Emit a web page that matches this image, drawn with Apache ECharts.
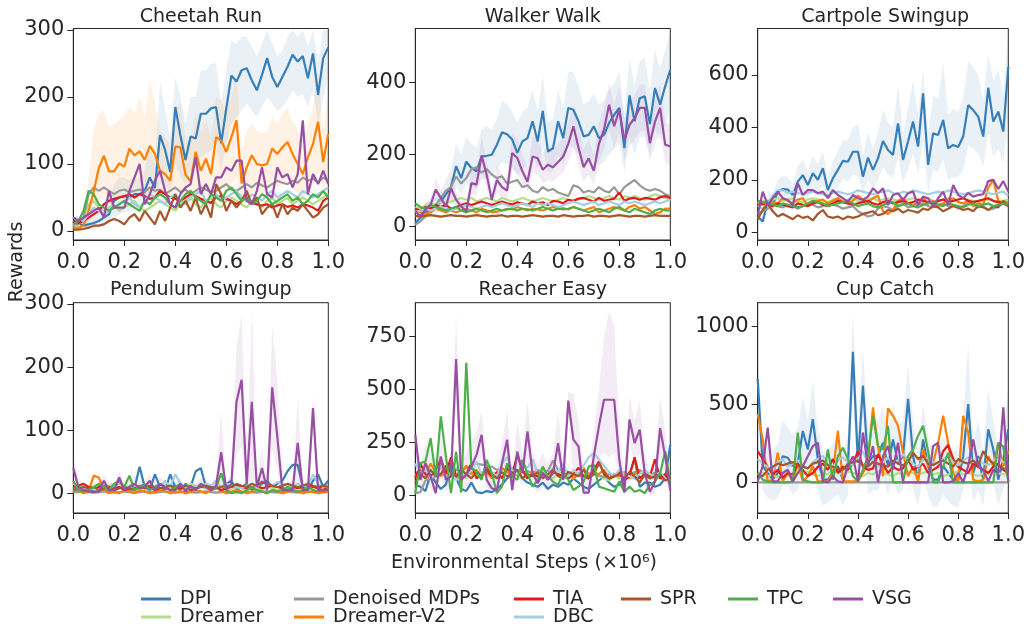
<!DOCTYPE html>
<html>
<head>
<meta charset="utf-8">
<title>Rewards vs environmental steps</title>
<script src="https://cdn.jsdelivr.net/npm/echarts@6/dist/echarts.min.js"></script>
<style>
html, body { margin: 0; padding: 0; background: #fff; }
#chart { width: 1028px; height: 624px; }
</style>
</head>
<body>
<div id="chart"></div>
<script>
// environmental steps (x 1e6)
const steps = [0,0.02,0.04,0.06,0.08,0.1,0.12,0.14,0.16,0.18,0.2,0.22,0.24,0.26,0.28,0.3,0.32,0.34,0.36,0.38,0.4,0.42,0.44,0.46,0.48,0.5,0.52,0.54,0.56,0.58,0.6,0.62,0.64,0.66,0.68,0.7,0.72,0.74,0.76,0.78,0.8,0.82,0.84,0.86,0.88,0.9,0.92,0.94,0.96,0.98,1];
const xTicks = [0, 0.2, 0.4, 0.6, 0.8, 1.0];

// methods, in plotting order
const methods = ['DPI', 'Dreamer', 'Denoised MDPs', 'Dreamer-V2', 'TIA', 'DBC', 'SPR', 'TPC', 'VSG'];
const colors = ['#377eb8', '#b2df8a', '#999999', '#ff7f00', '#e41a1c', '#a6cee3', '#a65628', '#4daf4a', '#984ea3'];

// ---- Cheetah Run ----
const cheetahTicks = [0, 100, 200, 300];
const cheetahDPI = [15,12,8,10,12,15,20,25,45,50,52,50,55,55,60,80,64,143,121,88,185,143,106,141,138,175,175,183,185,131,183,232,223,240,243,225,210,233,258,230,215,230,245,263,253,261,228,265,203,258,274];
const cheetahDreamer = [8,10,20,40,45,35,30,35,40,30,35,40,45,35,30,35,40,45,40,35,30,40,45,50,40,35,45,50,40,35,45,50,45,40,35,45,40,35,45,50,40,45,50,40,45,50,45,40,45,50,55];
const cheetahDenoised = [10,10,20,55,65,60,65,60,55,60,62,58,60,62,58,65,60,62,55,60,65,58,62,55,60,65,62,58,60,65,70,62,60,65,70,65,72,68,65,70,75,72,70,75,72,80,75,78,72,80,75];
const cheetahDreamerV2 = [5,5,8,30,59,94,112,89,89,101,96,123,113,119,106,127,115,90,85,75,126,125,84,74,118,90,108,85,140,135,118,140,165,71,95,113,100,98,100,123,115,125,133,115,100,85,110,130,163,103,145];
const cheetahTIA = [15,12,15,20,25,30,40,45,48,50,52,55,50,55,52,48,50,60,55,50,48,45,50,55,52,48,45,42,50,52,48,45,40,45,50,42,40,38,40,35,38,40,36,38,35,40,38,35,30,45,50];
const cheetahDBC = [20,18,15,25,35,30,25,30,35,40,45,50,40,35,45,55,50,45,40,50,55,45,40,50,55,60,45,50,55,45,50,55,60,50,45,55,50,45,55,60,50,55,60,55,50,60,55,50,55,60,65];
const cheetahSPR = [2,2,3,5,8,8,10,15,18,15,10,20,25,15,30,20,10,30,15,35,55,35,45,30,50,25,40,20,70,55,30,45,35,45,60,40,50,25,35,40,20,40,25,35,30,40,30,20,25,35,40];
const cheetahTPC = [10,15,30,60,55,40,35,30,35,40,45,40,35,30,45,40,50,55,50,40,35,45,55,60,50,45,40,55,50,45,60,65,55,45,50,40,45,55,50,40,45,50,55,45,50,40,45,55,50,60,50];
const cheetahVSG = [20,15,20,25,30,35,20,60,35,35,35,60,80,100,40,55,75,90,60,40,35,55,65,70,110,55,70,55,80,80,95,90,105,105,45,40,60,95,55,50,95,80,85,65,85,165,55,85,70,90,70];
const cheetahDPILow = [5,4,3,3,4,5,8,10,20,25,28,30,32,35,40,45,40,70,70,55,100,80,70,90,95,110,115,120,130,90,130,160,170,180,190,180,170,185,200,190,180,185,195,210,200,205,185,210,160,200,230];
const cheetahDPIHigh = [25,22,18,20,22,28,35,45,70,80,80,75,80,80,90,130,100,225,180,140,230,200,160,200,200,240,240,250,250,190,240,285,280,290,290,275,260,280,300,280,260,270,290,300,290,300,275,300,250,300,300];
const cheetahV2Low = [0,0,2,10,25,45,55,45,45,50,45,60,55,60,50,60,55,45,40,35,60,60,40,35,55,45,55,45,70,65,60,70,80,35,50,60,55,55,60,70,65,70,75,65,55,45,60,70,90,60,80];
const cheetahV2High = [10,10,20,80,150,175,180,155,160,165,175,185,175,200,170,225,190,150,140,130,185,190,140,130,180,150,165,140,200,195,175,200,235,120,150,160,150,145,150,170,160,175,185,165,150,130,160,185,230,150,210];

// ---- Walker Walk ----
const walkerTicks = [0, 200, 400];
const walkerDPI = [10,25,40,50,55,70,90,110,168,135,181,163,154,195,197,200,228,262,257,242,205,237,246,293,237,322,209,218,293,246,330,325,293,251,255,279,246,255,288,311,330,218,365,293,357,362,285,385,339,390,436];
const walkerDreamer = [55,50,60,65,60,70,65,70,75,80,75,80,70,75,80,75,70,80,75,70,75,80,75,70,75,80,75,70,75,80,75,70,75,80,85,80,75,80,85,80,75,85,80,85,80,75,85,90,85,80,75];
const walkerDenoised = [5,15,30,45,60,80,100,110,140,120,135,160,165,150,160,145,135,140,120,125,130,110,115,100,95,110,100,105,95,90,85,115,110,95,100,95,110,100,95,110,90,110,120,130,115,105,100,105,100,90,85];
const walkerDreamerV2 = [45,40,35,40,50,45,40,45,40,45,50,45,40,50,45,40,42,45,50,48,55,50,45,50,48,45,50,55,50,52,48,55,50,45,50,55,40,45,50,55,50,45,55,60,50,55,45,35,40,50,50];
const walkerTIA = [50,45,55,50,60,55,60,50,55,60,65,60,65,70,65,60,65,70,65,62,68,65,60,70,65,68,60,72,70,65,75,72,78,80,75,70,80,72,75,78,95,72,78,80,75,80,78,75,82,85,80];
const walkerDBC = [40,45,50,45,50,55,50,45,50,55,60,55,50,55,60,55,60,65,60,55,60,65,60,55,65,60,65,60,55,60,65,70,65,60,65,70,60,65,70,65,60,70,65,70,65,60,65,70,65,70,75];
const walkerSPR = [30,28,30,32,30,28,30,32,30,30,28,30,32,30,28,30,30,32,28,30,30,28,30,32,30,28,30,30,28,32,30,28,30,30,32,28,30,30,28,30,32,30,28,30,30,28,30,32,30,30,30];
const walkerTPC = [65,55,50,60,55,50,45,50,55,45,40,45,50,45,40,45,50,45,48,50,45,50,48,45,50,55,50,45,50,48,50,55,50,45,40,45,50,45,40,50,55,45,40,50,45,40,35,45,50,45,45];
const walkerVSG = [43,29,48,61,103,80,56,107,75,56,43,121,117,198,144,75,130,110,100,205,191,154,125,195,190,158,172,165,180,195,230,279,220,165,190,155,230,270,339,279,325,240,283,302,330,330,232,292,330,228,223];
const walkerDPILow = [5,10,20,30,35,45,55,70,110,90,120,110,105,130,135,140,160,180,175,165,140,160,170,200,160,220,150,155,200,170,230,220,200,170,180,190,170,180,200,215,230,150,250,200,250,250,200,270,240,280,330];
const walkerDPIHigh = [15,40,60,70,80,100,130,160,230,200,250,230,220,270,280,270,300,350,340,320,290,320,330,380,320,420,290,300,380,330,430,430,390,340,350,370,340,350,380,400,430,310,470,390,460,470,380,490,440,490,540];
const walkerVSGLow = [30,20,35,45,75,60,40,80,55,40,30,90,85,150,110,55,95,80,75,160,150,120,95,150,145,120,130,125,140,150,180,220,170,125,145,115,180,215,270,220,260,185,225,240,265,265,180,230,265,175,170];
const walkerVSGHigh = [55,40,65,80,135,105,75,140,100,75,60,160,155,250,185,100,170,145,135,260,245,200,165,250,245,205,220,215,230,250,290,340,280,215,245,200,290,330,400,340,390,300,345,365,395,395,290,355,395,290,285];

// ---- Cartpole Swingup ----
const cartpoleTicks = [0, 200, 400, 600];
const cartpoleDPI = [60,41,117,105,155,165,163,142,193,218,180,225,200,244,161,206,238,272,269,307,307,212,285,238,282,348,314,295,415,276,346,422,327,530,257,377,371,428,320,333,325,365,485,466,441,365,551,422,460,384,631];
const cartpoleDreamer = [110,120,115,125,130,120,125,130,120,115,125,130,125,120,115,125,130,120,125,130,120,115,125,130,120,125,130,125,120,115,125,130,120,125,130,120,115,125,130,120,125,130,125,120,115,120,125,120,115,120,125];
const cartpoleDenoised = [70,80,90,110,100,95,105,100,90,100,110,105,95,100,110,105,100,90,95,100,80,70,60,65,90,100,95,85,100,110,95,100,105,110,100,95,105,110,100,105,90,100,110,105,95,100,85,90,100,110,115];
const cartpoleDreamerV2 = [110,105,120,115,110,130,120,110,125,130,100,115,120,125,110,120,130,115,110,120,140,125,115,130,140,80,70,85,120,130,110,100,120,130,110,120,100,110,125,130,115,110,120,100,110,105,170,200,120,110,115];
const cartpoleTIA = [100,110,105,100,110,105,100,95,110,105,100,110,115,105,100,110,120,115,110,105,110,115,120,110,105,115,120,110,115,120,110,115,125,120,115,110,120,125,115,120,125,130,120,115,120,125,130,120,115,110,100];
const cartpoleDBC = [100,90,110,140,160,160,150,155,150,145,150,155,150,145,140,150,155,150,145,150,160,155,150,145,150,155,160,150,145,155,150,160,155,150,145,150,155,150,160,155,150,145,150,155,160,155,150,145,150,155,140];
const cartpoleSPR = [50,85,110,80,60,70,60,50,65,55,60,45,70,85,60,55,60,50,60,55,60,70,75,80,65,70,85,80,90,75,85,80,75,90,85,100,95,80,90,100,95,85,90,80,100,95,85,100,95,120,100];
const cartpoleTPC = [120,115,110,105,100,110,105,100,95,100,110,120,115,110,100,105,110,115,120,110,100,105,110,100,95,105,110,115,100,105,110,100,95,105,110,115,105,100,110,105,100,95,105,110,100,105,110,100,105,110,105];
const cartpoleVSG = [66,155,104,130,155,130,123,104,187,142,161,161,149,155,130,161,142,130,117,142,130,123,136,168,149,168,104,142,149,123,149,155,104,136,130,98,130,155,104,180,142,130,150,136,142,145,195,200,165,195,155];
const cartpoleDPILow = [40,30,80,75,110,120,120,105,140,160,130,165,145,180,115,150,170,200,195,220,215,150,200,165,200,250,220,205,290,190,240,300,220,350,150,240,230,280,200,210,210,240,330,320,300,250,380,290,320,260,450];
const cartpoleDPIHigh = [80,55,160,140,200,215,210,185,250,280,235,290,260,310,210,270,310,350,350,400,410,290,380,320,380,470,420,400,560,380,470,580,450,620,380,520,510,650,450,470,460,510,650,630,600,500,680,580,620,530,770];

// ---- Pendulum Swingup ----
const pendulumTicks = [0, 100, 200, 300];
const pendulumDPI = [5,3,2,5,3,2,5,3,5,8,10,5,8,42,10,5,30,10,5,30,10,5,15,10,35,40,10,5,8,10,15,20,5,10,15,5,10,15,20,10,15,20,35,45,45,10,5,20,30,10,20];
const pendulumDreamer = [15,10,5,8,10,15,10,12,15,10,8,12,15,10,8,12,10,15,12,10,8,12,10,15,12,10,8,10,12,10,8,5,10,8,5,10,8,5,10,8,5,10,8,12,10,8,5,10,8,5,8];
const pendulumDenoised = [2,2,3,2,1,2,3,2,1,2,3,2,1,2,3,2,1,2,3,2,1,2,3,2,1,2,3,2,1,2,3,2,1,2,3,2,1,2,3,2,1,2,3,2,1,2,3,2,1,2,2];
const pendulumDreamerV2 = [10,5,0,3,28,25,5,0,3,0,5,3,0,5,3,0,2,5,3,0,2,3,0,2,5,3,0,5,10,3,0,2,5,3,0,2,5,3,0,5,3,0,2,5,3,0,2,3,0,2,3];
const pendulumTIA = [10,12,15,10,8,10,12,10,8,10,5,8,10,12,8,10,5,8,10,12,10,8,10,5,8,10,12,8,10,5,8,10,12,10,8,10,12,8,10,12,10,8,5,10,8,10,12,10,8,10,5];
const pendulumDBC = [5,8,10,5,8,15,10,8,12,15,10,8,12,10,15,12,10,8,20,10,30,15,10,8,12,10,15,12,20,10,15,12,10,8,12,15,10,20,15,12,18,15,12,10,15,12,10,30,15,10,12];
const pendulumSPR = [5,8,10,8,10,5,8,10,5,8,10,8,5,10,8,12,10,8,10,12,8,10,12,10,8,10,12,10,8,10,12,10,15,12,10,15,12,18,15,12,10,12,15,12,10,12,15,12,10,12,10];
const pendulumTPC = [20,5,3,5,10,15,10,5,15,20,10,28,5,10,15,5,10,15,10,5,10,15,5,10,5,15,10,5,10,32,5,0,3,0,5,10,5,3,0,5,3,5,10,5,3,5,10,5,3,5,5];
const pendulumVSG = [40,10,5,3,2,3,20,5,5,25,5,10,15,8,10,20,5,15,10,5,5,15,3,12,5,15,10,5,12,65,5,15,145,180,15,145,10,40,5,168,90,5,5,5,80,5,5,135,5,5,5];
const pendulumVSGLow = [20,0,0,0,0,0,5,0,0,10,0,0,5,0,0,5,0,5,0,0,0,5,0,0,0,5,0,0,0,10,0,5,60,75,0,10,0,10,0,70,40,0,0,0,20,0,0,110,0,0,0];
const pendulumVSGHigh = [60,25,15,10,10,10,30,15,15,35,15,20,30,20,20,30,15,25,20,15,15,25,10,20,15,25,20,15,25,130,15,30,230,285,40,290,25,70,15,265,180,15,15,20,150,20,15,155,20,15,15];

// ---- Reacher Easy ----
const reacherTicks = [0, 250, 500, 750];
const reacherDPI = [50,40,20,100,60,30,50,150,80,30,20,60,15,10,20,15,30,50,80,100,120,80,60,50,40,60,30,50,40,60,50,80,60,40,30,50,70,90,60,40,50,90,100,175,40,60,60,40,50,80,240];
const reacherDreamer = [100,80,150,120,100,140,110,90,130,100,80,120,100,90,110,100,80,90,110,100,90,80,100,90,80,100,90,80,100,110,90,80,100,90,80,100,90,80,70,90,80,100,90,80,70,90,80,100,90,80,70];
const reacherDenoised = [10,15,70,80,90,100,95,110,120,115,130,140,150,145,140,135,120,125,115,130,120,110,115,105,120,110,115,165,120,120,110,100,95,90,105,100,95,85,100,90,95,85,100,110,115,110,100,105,80,75,70];
const reacherDreamerV2 = [90,120,100,150,110,90,130,100,80,110,140,100,120,90,110,80,100,130,110,90,100,120,80,110,90,100,80,120,100,90,110,80,100,130,90,110,100,120,80,100,90,110,80,100,120,90,100,80,90,100,90];
const reacherTIA = [80,150,100,80,120,170,100,180,90,80,100,150,80,100,120,90,110,80,130,100,190,120,80,100,90,120,80,110,100,90,80,100,130,90,80,120,160,100,80,90,110,70,90,180,80,100,90,170,80,100,60];
const reacherDBC = [150,100,120,80,100,130,90,110,70,100,90,120,160,100,130,110,90,150,180,120,100,150,130,170,100,120,90,130,110,150,90,120,100,140,180,200,170,140,110,90,120,100,90,80,100,120,100,90,110,80,60];
const reacherSPR = [60,100,80,120,90,100,140,110,90,120,100,80,110,90,130,100,80,110,90,100,120,80,100,90,110,80,100,120,90,80,110,100,90,120,80,100,150,110,80,90,100,80,110,90,60,100,80,90,100,70,80];
const reacherTPC = [10,152,160,270,89,373,184,10,207,13,627,128,112,73,168,104,10,41,152,89,73,168,104,41,73,136,89,65,49,104,73,25,41,65,136,144,41,33,25,17,65,17,41,17,25,10,49,65,104,207,57];
const reacherVSG = [286,73,152,89,10,184,73,89,645,73,97,136,191,286,73,33,25,152,263,25,207,104,302,104,57,104,73,104,247,73,448,263,231,13,13,184,326,452,452,452,168,13,358,247,310,104,17,65,318,184,25];
const reacherVSGLow = [200,20,80,30,0,80,20,30,450,20,40,60,100,180,20,0,0,60,130,0,100,40,170,40,10,40,20,40,120,20,380,100,120,0,0,80,180,200,180,200,60,0,250,150,200,40,0,10,180,80,0];
const reacherVSGHigh = [350,150,250,200,100,300,150,200,860,150,200,250,300,400,150,100,100,250,400,100,350,200,450,200,150,200,150,200,400,150,490,480,350,100,100,300,500,750,870,800,300,100,470,350,450,200,100,150,470,300,100];

// ---- Cup Catch ----
const cupTicks = [0, 500, 1000];
const cupDPI = [665,104,60,17,60,168,158,104,125,330,211,406,147,17,17,60,104,17,104,838,125,622,125,168,168,255,104,276,125,168,536,168,17,276,104,17,17,104,60,17,17,168,503,60,168,17,341,212,17,147,341];
const cupDreamer = [50,60,40,50,30,60,50,40,60,50,70,50,40,60,50,80,60,50,70,60,50,40,60,50,70,60,50,40,60,50,70,60,50,60,70,50,60,40,50,60,70,50,60,50,40,60,50,70,60,50,60];
const cupDenoised = [0,0,0,0,0,0,0,0,0,0,0,0,0,0,0,0,0,0,0,0,0,0,0,0,0,0,0,0,0,0,0,0,0,0,0,0,0,0,0,0,0,0,0,0,0,0,0,0,0,0,0];
const cupDreamerV2 = [438,276,6,17,190,6,60,6,125,6,39,104,6,6,6,60,330,6,6,6,6,60,125,481,233,39,475,427,363,190,39,104,6,212,104,125,255,428,255,60,6,428,320,17,6,17,168,104,255,104,200];
const cupTIA = [200,150,100,50,80,30,60,50,120,80,40,60,100,120,80,150,60,100,80,120,200,100,80,90,180,120,60,100,80,90,150,80,100,120,60,80,100,200,240,150,100,80,60,120,100,80,60,100,120,80,60];
const cupDBC = [150,120,100,80,130,150,100,120,140,110,90,130,150,170,120,100,140,160,130,110,150,200,120,140,100,130,160,120,140,180,150,120,100,140,160,130,120,150,170,130,110,140,160,130,150,120,110,140,160,130,120];
const cupSPR = [50,40,80,100,120,110,120,130,110,100,90,120,130,140,110,100,90,80,120,130,140,110,100,130,120,110,100,140,120,110,130,190,150,170,120,110,130,140,120,100,150,130,120,140,110,200,150,120,110,90,80];
const cupTPC = [60,17,6,0,0,0,0,5,320,17,6,0,0,0,212,17,168,222,151,39,6,82,168,428,233,212,363,0,0,0,168,212,300,363,200,0,0,100,190,0,0,0,0,0,0,0,0,0,255,230,0];
const cupVSG = [6,104,352,6,6,60,82,6,60,104,168,233,255,6,0,39,6,0,104,168,6,320,104,233,0,168,233,82,255,0,0,0,0,0,0,233,255,0,0,6,60,0,104,276,104,82,6,82,60,482,0];
const cupDPILow = [550,-50,-100,-120,-100,-20,-20,-80,-50,100,0,150,-50,-150,-130,-100,-80,-150,-80,600,-80,400,-80,-50,-50,20,-80,50,-80,-50,300,-50,-150,50,-80,-160,-150,-80,-120,-150,-160,-50,150,-120,-50,-150,100,0,-150,-50,100];
const cupDPIHigh = [750,300,250,200,250,400,350,300,350,550,400,650,350,200,200,250,300,200,300,1080,350,850,350,400,400,500,300,500,350,400,750,400,200,500,300,200,200,300,250,200,200,400,900,250,400,200,600,400,200,350,600];

const tasks = [
  { title: 'Cheetah Run', yMin: -13.4, yMax: 302.2, ticks: cheetahTicks,
    lines: [cheetahDPI, cheetahDreamer, cheetahDenoised, cheetahDreamerV2, cheetahTIA, cheetahDBC, cheetahSPR, cheetahTPC, cheetahVSG],
    bands: [[0, cheetahDPILow, cheetahDPIHigh], [3, cheetahV2Low, cheetahV2High]] },
  { title: 'Walker Walk', yMin: -36.9, yMax: 550.6, ticks: walkerTicks,
    lines: [walkerDPI, walkerDreamer, walkerDenoised, walkerDreamerV2, walkerTIA, walkerDBC, walkerSPR, walkerTPC, walkerVSG],
    bands: [[0, walkerDPILow, walkerDPIHigh], [8, walkerVSGLow, walkerVSGHigh]] },
  { title: 'Cartpole Swingup', yMin: -29.4, yMax: 777, ticks: cartpoleTicks,
    lines: [cartpoleDPI, cartpoleDreamer, cartpoleDenoised, cartpoleDreamerV2, cartpoleTIA, cartpoleDBC, cartpoleSPR, cartpoleTPC, cartpoleVSG],
    bands: [[0, cartpoleDPILow, cartpoleDPIHigh]] },
  { title: 'Pendulum Swingup', yMin: -31.2, yMax: 302, ticks: pendulumTicks,
    lines: [pendulumDPI, pendulumDreamer, pendulumDenoised, pendulumDreamerV2, pendulumTIA, pendulumDBC, pendulumSPR, pendulumTPC, pendulumVSG],
    bands: [[8, pendulumVSGLow, pendulumVSGHigh]] },
  { title: 'Reacher Easy', yMin: -83.8, yMax: 911, ticks: reacherTicks,
    lines: [reacherDPI, reacherDreamer, reacherDenoised, reacherDreamerV2, reacherTIA, reacherDBC, reacherSPR, reacherTPC, reacherVSG],
    bands: [[8, reacherVSGLow, reacherVSGHigh]] },
  { title: 'Cup Catch', yMin: -197, yMax: 1154, ticks: cupTicks,
    lines: [cupDPI, cupDreamer, cupDenoised, cupDreamerV2, cupTIA, cupDBC, cupSPR, cupTPC, cupVSG],
    bands: [[0, cupDPILow, cupDPIHigh]] }
];

// legend layout (two rows, like the figure)
const legendRows = [['DPI', 'Denoised MDPs', 'TIA', 'SPR', 'TPC', 'VSG'], ['Dreamer', 'Dreamer-V2', 'DBC']];

const FONT = 'DejaVu Sans';
const INK = '#262626';
const colLeft = [73.3, 415.3, 757.7];
const rowTop = [28.5, 302.7];
const rowHeight = [211.5, 210.3];
const plotWidth = 255;
const legendX = [141, 294, 514, 621, 728, 833];

const chart = echarts.init(document.getElementById('chart'));

const grid = [], xAxis = [], yAxis = [], series = [], graphic = [], legend = [];

tasks.forEach(function (task, i) {
  const r = Math.floor(i / 3), c = i % 3;
  grid.push({ left: colLeft[c], top: rowTop[r], width: plotWidth, height: rowHeight[r],
    show: true, borderColor: INK, borderWidth: 1, backgroundColor: 'transparent' });
  xAxis.push({
    type: 'value', gridIndex: i, min: 0, max: 1,
    axisLine: { show: true, onZero: false, lineStyle: { color: INK, width: 1 } },
    axisTick: { show: true, length: 6, lineStyle: { color: INK }, customValues: xTicks },
    axisLabel: { fontFamily: FONT, fontSize: 21, color: INK, margin: 12, customValues: xTicks,
      formatter: function (v) { return v.toFixed(1); } },
    splitLine: { show: false }
  });
  yAxis.push({
    type: 'value', gridIndex: i, min: task.yMin, max: task.yMax,
    axisLine: { show: true, onZero: false, lineStyle: { color: INK, width: 1 } },
    axisTick: { show: true, length: 6, lineStyle: { color: INK }, customValues: task.ticks },
    axisLabel: { fontFamily: FONT, fontSize: 21, color: INK, margin: 9, customValues: task.ticks,
      formatter: function (v) { return String(v); } },
    splitLine: { show: false }
  });
  // title above each panel
  graphic.push({ type: 'text', x: colLeft[c] + plotWidth / 2, y: r === 0 ? 17 : 290,
    style: { text: task.title, font: '19px ' + FONT, fill: INK,
      align: 'center', verticalAlign: 'middle', textAlign: 'center', textVerticalAlign: 'middle' } });

  task.lines.forEach(function (vals, k) {
    series.push({
      type: 'line', name: methods[k], xAxisIndex: i, yAxisIndex: i,
      data: steps.map(function (x, j) { return [x, vals[j]]; }),
      showSymbol: false, symbol: 'none', clip: true, silent: true, z: 3,
      lineStyle: { width: 2.2, color: colors[k] }, itemStyle: { color: colors[k] },
      emphasis: { disabled: true }
    });
  });

  // shaded std bands
  task.bands.forEach(function (b) {
    const k = b[0], lo = b[1], hi = b[2];
    series.push({
      type: 'custom', name: methods[k] + ' band', xAxisIndex: i, yAxisIndex: i,
      data: [[0.5, 0]], silent: true, clip: true, z: 2,
      renderItem: function (params, api) {
        const pts = [];
        for (let j = 0; j < steps.length; j++) pts.push(api.coord([steps[j], hi[j]]));
        for (let j = steps.length - 1; j >= 0; j--) pts.push(api.coord([steps[j], lo[j]]));
        return { type: 'polygon', shape: { points: pts },
          style: { fill: colors[k], opacity: 0.11 } };
      }
    });
  });
});

legendRows.forEach(function (row, r) {
  row.forEach(function (name, c) {
    legend.push({
      data: [name], left: legendX[c], top: 589 + r * 18, padding: 0,
      icon: 'rect', itemWidth: 30, itemHeight: 3,
      textStyle: { fontFamily: FONT, fontSize: 19, color: INK, lineHeight: 20, padding: [0, 0, 0, 4] }
    });
  });
});

graphic.push({ type: 'text', x: 17, y: 262, rotation: Math.PI / 2,
  style: { text: 'Rewards', font: '19px ' + FONT, fill: INK,
    align: 'center', verticalAlign: 'middle', textAlign: 'center', textVerticalAlign: 'middle' } });
graphic.push({ type: 'text', x: 524, y: 563,
  style: { text: 'Environmental Steps (×10⁶)', font: '19px ' + FONT, fill: INK,
    align: 'center', verticalAlign: 'middle', textAlign: 'center', textVerticalAlign: 'middle' } });

chart.setOption({
  animation: false,
  grid: grid, xAxis: xAxis, yAxis: yAxis,
  legend: legend, graphic: graphic, series: series
});
</script>
</body>
</html>
